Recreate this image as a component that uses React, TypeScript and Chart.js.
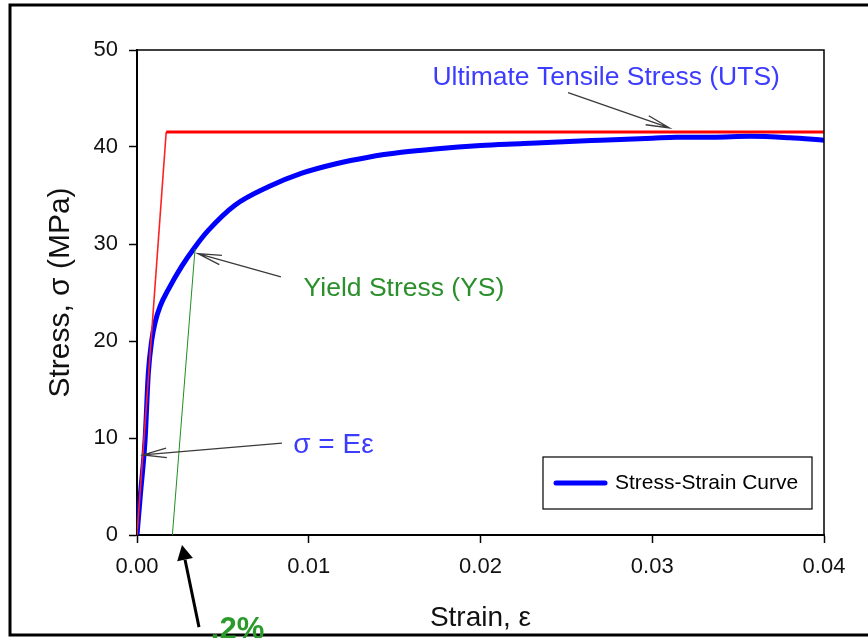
import React, { useEffect, useRef } from "react";
import { Chart, registerables } from "chart.js";

Chart.register(...registerables);

const FONT = '"Liberation Sans", Arial, Helvetica, sans-serif';

// Measured stress-strain curve (strain, stress in MPa)
const curveStrain = [
  0, 0.0002, 0.00047, 0.00066, 0.00086, 0.00105, 0.00135, 0.00182, 0.0026, 0.00338, 0.00415,
  0.0057, 0.00765, 0.0096, 0.01153, 0.01347, 0.0154, 0.01735, 0.02, 0.0225, 0.0242,
  0.027, 0.03, 0.0314, 0.0335, 0.0357, 0.038, 0.04,
];
const curveStress = [
  0, 4.2, 9.8, 16.7, 20.1, 21.9, 23.6, 25.3, 27.7, 29.7, 31.4,
  34.0, 35.9, 37.3, 38.25, 38.95, 39.45, 39.8, 40.15, 40.35, 40.5,
  40.7, 40.9, 41.0, 41.0, 41.1, 40.95, 40.7,
];

// Elastic modulus line (red, thin) and UTS level (red, thick)
const modulusStrain = [0, 0.0017];
const modulusStress = [0, 41.55];
const utsStrain = [0.0017, 0.04];
const utsStress = [41.55, 41.55];

// 0.2% offset line (green)
const offsetStrain = [0.00206, 0.00338];
const offsetStress = [0, 29.5];

const xTickValues = [0, 0.01, 0.02, 0.03, 0.04];
const yTickValues = [0, 10, 20, 30, 40, 50];

const legendLabel = "Stress-Strain Curve";
const xTitle = "Strain, \u03b5";
const yTitle = "Stress, \u03c3 (MPa)";

// Annotation labels (anchored in data coordinates)
const noteTexts = ["Ultimate Tensile Stress (UTS)", "Yield Stress (YS)", "\u03c3 = E\u03b5", ".2%"];
const noteX = [0.0172, 0.0097, 0.0091, 0.0043];
const noteY = [47.1, 25.4, 9.3, -9.8];
const noteSizes = [26.5, 26.5, 28, 31];
const noteColors = ["#3c3cff", "#2b8f2b", "#3c3cff", "#2b9a2b"];
const noteBold = [false, false, false, true];

// Arrows: from (fromX, fromY) to tip (toX, toY), in data coordinates
const arrowFromX = [0.0251, 0.00838, 0.00844, 0.00361];
const arrowFromY = [45.6, 26.6, 9.48, -9.5];
const arrowToX = [0.031, 0.00355, 0.00035, 0.00262];
const arrowToY = [41.96, 29.0, 8.25, -1.03];
const arrowFilled = [false, false, false, true];

const overlayPlugin = {
  id: "overlay",
  afterDraw(chart: any) {
    const { ctx, chartArea: a, scales } = chart;
    const xs = scales.x;
    const ys = scales.y;
    ctx.save();

    // plot box top & right
    ctx.strokeStyle = "#000";
    ctx.lineWidth = 1.5;
    ctx.beginPath();
    ctx.moveTo(a.left, a.top);
    ctx.lineTo(a.right, a.top);
    ctx.lineTo(a.right, a.bottom);
    ctx.stroke();

    // outer frame
    ctx.lineWidth = 3;
    ctx.beginPath();
    ctx.moveTo(chart.width + 5, 5);
    ctx.lineTo(10, 5);
    ctx.lineTo(10, chart.height - 3);
    ctx.lineTo(chart.width + 5, chart.height - 3);
    ctx.stroke();

    // arrows
    for (let i = 0; i < arrowFromX.length; i++) {
      const x0 = xs.getPixelForValue(arrowFromX[i]);
      const y0 = ys.getPixelForValue(arrowFromY[i]);
      const x1 = xs.getPixelForValue(arrowToX[i]);
      const y1 = ys.getPixelForValue(arrowToY[i]);
      const ang = Math.atan2(y1 - y0, x1 - x0);
      if (arrowFilled[i]) {
        ctx.strokeStyle = "#000";
        ctx.fillStyle = "#000";
        ctx.lineWidth = 3;
        const hl = 15;
        const hw = 8;
        const bx = x1 - hl * Math.cos(ang);
        const by = y1 - hl * Math.sin(ang);
        ctx.beginPath();
        ctx.moveTo(x0, y0);
        ctx.lineTo(bx, by);
        ctx.stroke();
        ctx.beginPath();
        ctx.moveTo(x1, y1);
        ctx.lineTo(bx + hw * Math.sin(ang), by - hw * Math.cos(ang));
        ctx.lineTo(bx - hw * Math.sin(ang), by + hw * Math.cos(ang));
        ctx.closePath();
        ctx.fill();
      } else {
        ctx.strokeStyle = "#3a3a3a";
        ctx.lineWidth = 1.3;
        ctx.beginPath();
        ctx.moveTo(x0, y0);
        ctx.lineTo(x1, y1);
        const bl = 24;
        const da = 0.2;
        ctx.moveTo(x1 - bl * Math.cos(ang - da), y1 - bl * Math.sin(ang - da));
        ctx.lineTo(x1, y1);
        ctx.lineTo(x1 - bl * Math.cos(ang + da), y1 - bl * Math.sin(ang + da));
        ctx.stroke();
      }
    }

    // annotation texts
    ctx.textAlign = "left";
    ctx.textBaseline = "middle";
    for (let i = 0; i < noteTexts.length; i++) {
      ctx.fillStyle = noteColors[i];
      ctx.font = (noteBold[i] ? "bold " : "") + noteSizes[i] + "px " + FONT;
      ctx.fillText(noteTexts[i], xs.getPixelForValue(noteX[i]), ys.getPixelForValue(noteY[i]));
    }

    // legend box
    const lx1 = a.right - 12;
    const lx0 = lx1 - 269;
    const ly1 = a.bottom - 26;
    const ly0 = ly1 - 52;
    ctx.fillStyle = "#fff";
    ctx.fillRect(lx0, ly0, lx1 - lx0, ly1 - ly0);
    ctx.strokeStyle = "#000";
    ctx.lineWidth = 1.2;
    ctx.strokeRect(lx0, ly0, lx1 - lx0, ly1 - ly0);
    const my = (ly0 + ly1) / 2;
    ctx.strokeStyle = "#0000ff";
    ctx.lineWidth = 5;
    ctx.lineCap = "round";
    ctx.beginPath();
    ctx.moveTo(lx0 + 13, my);
    ctx.lineTo(lx0 + 62, my);
    ctx.stroke();
    ctx.fillStyle = "#000";
    ctx.font = "21px " + FONT;
    ctx.fillText(legendLabel, lx0 + 72, my);

    ctx.restore();
  },
};

export default function App() {
  const ref = useRef<HTMLCanvasElement | null>(null);

  useEffect(() => {
    if (!ref.current) return;
    const chart = new Chart(ref.current, {
      type: "scatter",
      data: {
        datasets: [
          {
            label: "UTS",
            data: utsStrain.map((v, i) => ({ x: v, y: utsStress[i] })),
            showLine: true,
            borderColor: "#ff0000",
            borderWidth: 3,
            pointRadius: 0,
          },
          {
            label: "Modulus",
            data: modulusStrain.map((v, i) => ({ x: v, y: modulusStress[i] })),
            showLine: true,
            borderColor: "#ff2020",
            borderWidth: 1.6,
            pointRadius: 0,
          },
          {
            label: "Offset",
            data: offsetStrain.map((v, i) => ({ x: v, y: offsetStress[i] })),
            showLine: true,
            borderColor: "#1e8f1e",
            borderWidth: 1,
            pointRadius: 0,
          },
          {
            label: legendLabel,
            data: curveStrain.map((v, i) => ({ x: v, y: curveStress[i] })),
            showLine: true,
            borderColor: "#0000ff",
            borderWidth: 5,
            pointRadius: 0,
            cubicInterpolationMode: "monotone",
          },
        ],
      },
      options: {
        animation: false,
        responsive: false,
        devicePixelRatio: 1,
        layout: { padding: { left: 0, top: 50, right: 44, bottom: 0 } },
        plugins: { legend: { display: false }, tooltip: { enabled: false } },
        scales: {
          x: {
            type: "linear",
            min: 0,
            max: 0.04,
            afterFit: (s: any) => {
              s.height = 103;
            },
            afterBuildTicks: (s: any) => {
              s.ticks = xTickValues.map((v) => ({ value: v }));
            },
            ticks: {
              color: "#111",
              padding: 11,
              font: { family: FONT, size: 22 },
              callback: (v: any) => Number(v).toFixed(2),
              maxRotation: 0,
            },
            grid: {
              drawOnChartArea: false,
              drawTicks: true,
              tickLength: 8,
              color: "#000",
              tickColor: "#000",
              tickWidth: 1.5,
            },
            border: { display: true, color: "#000", width: 2 },
            title: {
              display: true,
              text: xTitle,
              color: "#111",
              font: { family: FONT, size: 28 },
              padding: { top: 0, bottom: 3 },
            },
          },
          y: {
            type: "linear",
            min: 0,
            max: 50,
            afterFit: (s: any) => {
              s.width = 137;
            },
            afterBuildTicks: (s: any) => {
              s.ticks = yTickValues.map((v) => ({ value: v }));
            },
            ticks: {
              color: "#111",
              padding: 11,
              font: { family: FONT, size: 22 },
              callback: (v: any) => String(v),
            },
            grid: {
              drawOnChartArea: false,
              drawTicks: true,
              tickLength: 8,
              color: "#000",
              tickColor: "#000",
              tickWidth: 1.5,
            },
            border: { display: true, color: "#000", width: 2 },
            title: {
              display: true,
              text: yTitle,
              color: "#111",
              font: { family: FONT, size: 30 },
              padding: { top: 43, bottom: 0 },
            },
          },
        },
      },
      plugins: [overlayPlugin],
    } as any);
    return () => chart.destroy();
  }, []);

  return (
    <div style={{ position: "absolute", left: 0, top: 0, width: 868, height: 638, background: "#fff" }}>
      <canvas ref={ref} width={868} height={638} style={{ display: "block", width: 868, height: 638 }} />
    </div>
  );
}
